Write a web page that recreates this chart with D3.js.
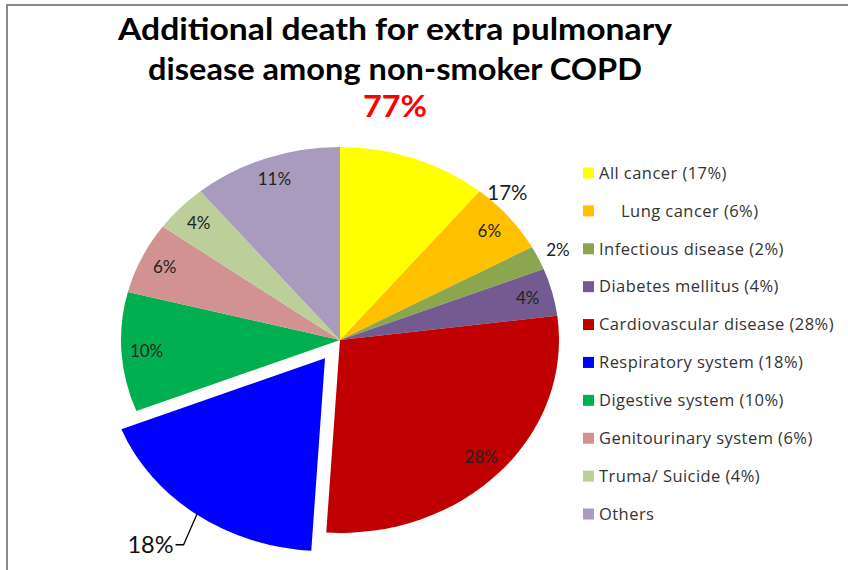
<!DOCTYPE html>
<html>
<head>
<meta charset="utf-8">
<script src="https://cdn.jsdelivr.net/npm/d3@7"></script>
<style>
  html, body { margin: 0; padding: 0; background: #fff; }
  svg { display: block; }
</style>
</head>
<body>
<svg id="chart" width="848" height="570"></svg>
<script>
// ---- data ----
const categories = ["All cancer", "Lung cancer", "Infectious disease", "Diabetes mellitus",
  "Cardiovascular disease", "Respiratory system", "Digestive system",
  "Genitourinary system", "Truma/ Suicide", "Others"];
const legendLabels = ["All cancer (17%)", "Lung cancer (6%)", "Infectious disease (2%)",
  "Diabetes mellitus (4%)", "Cardiovascular disease (28%)", "Respiratory system (18%)",
  "Digestive system (10%)", "Genitourinary system (6%)", "Truma/ Suicide (4%)", "Others"];
const values = [11, 6, 2, 4, 28, 18, 10, 6, 4, 11];
const sliceLabels = ["17%", "6%", "2%", "4%", "28%", "18%", "10%", "6%", "4%", "11%"];
const colors = ["#FFFF00", "#FFC000", "#8BA64E", "#735A91", "#C00000", "#0000FF",
  "#00B050", "#D29292", "#BCCF9A", "#A99BBE"];
const titleLines = ["Additional death for extra pulmonary", "disease among non-smoker COPD"];
const subtitle = "77%";
const explodedIndex = 5;

// ---- layout ----
const svg = d3.select("#chart");
const cx = 340, cy = 340, rx = 219, ry = 193;
const sx = rx / ry;
const explode = 0.1165;

// frame lines
svg.append("line").attr("x1", 7).attr("y1", 5).attr("x2", 848).attr("y2", 5)
  .attr("stroke", "#8a8a8a").attr("stroke-width", 2);
svg.append("line").attr("x1", 7).attr("y1", 4).attr("x2", 7).attr("y2", 570)
  .attr("stroke", "#8a8a8a").attr("stroke-width", 2);

// title
const titleFont = "Lato, 'Open Sans', sans-serif";
svg.append("text").attr("x", 395).attr("y", 40).attr("text-anchor", "middle")
  .attr("font-family", titleFont).attr("font-weight", "bold").attr("font-size", 30)
  .attr("textLength", 554).attr("lengthAdjust", "spacingAndGlyphs")
  .attr("fill", "#000").text(titleLines[0]);
svg.append("text").attr("x", 395).attr("y", 80).attr("text-anchor", "middle")
  .attr("font-family", titleFont).attr("font-weight", "bold").attr("font-size", 30)
  .attr("textLength", 494).attr("lengthAdjust", "spacingAndGlyphs")
  .attr("fill", "#000").text(titleLines[1]);
svg.append("text").attr("x", 395).attr("y", 117).attr("text-anchor", "middle")
  .attr("font-family", titleFont).attr("font-weight", "bold").attr("font-size", 30)
  .attr("textLength", 64).attr("lengthAdjust", "spacingAndGlyphs")
  .attr("fill", "#FF0000").text(subtitle);

// pie
const pie = d3.pie().sort(null).value(d => d)(values);
const arc = d3.arc().innerRadius(0).outerRadius(ry);

function pt(angle, r, ox = 0, oy = 0) {
  return [cx + ox + Math.sin(angle) * r * rx, cy + oy - Math.cos(angle) * r * ry];
}

const g = svg.append("g");
pie.forEach((p, i) => {
  const mid = (p.startAngle + p.endAngle) / 2;
  let ox = 0, oy = 0;
  if (i === explodedIndex) {
    ox = Math.sin(mid) * explode * rx;
    oy = -Math.cos(mid) * explode * ry;
  }
  g.append("path")
    .attr("d", arc(p))
    .attr("transform", `translate(${cx + ox},${cy + oy}) scale(${sx},1)`)
    .attr("fill", colors[i]);
});

// labels
const labelFont = "Lato, 'Open Sans', sans-serif";
pie.forEach((p, i) => {
  const mid = (p.startAngle + p.endAngle) / 2;
  let angle = mid, r = 0.885, size = 17, anchor = "middle";
  let ox = 0, oy = 0;
  if (i === 0) { angle = p.endAngle + 0.095; r = 1.08; size = 20.5; }
  if (i === 2) { r = 1.1; size = 17; }
  if (i === explodedIndex) {
    ox = Math.sin(mid) * explode * rx;
    oy = -Math.cos(mid) * explode * ry;
    const a = pt(mid, 0.99, ox, oy);
    const b = [a[0] - 14, a[1] + 32];
    const c = [b[0] - 8, b[1]];
    svg.append("polyline").attr("points", [a, b, c].map(q => q.join(",")).join(" "))
      .attr("fill", "none").attr("stroke", "#000").attr("stroke-width", 1.3);
    svg.append("text").attr("x", c[0] - 2).attr("y", c[1]).attr("dy", "0.36em")
      .attr("text-anchor", "end").attr("font-family", labelFont).attr("font-size", 23.5)
      .attr("fill", "#111").text(sliceLabels[i]);
    return;
  }
  const q = pt(angle, r);
  svg.append("text").attr("x", q[0]).attr("y", q[1]).attr("dy", "0.36em")
    .attr("text-anchor", anchor).attr("font-family", labelFont).attr("font-size", size)
    .attr("fill", "#222").text(sliceLabels[i]);
});

// legend
const legendFont = "'Open Sans', Lato, sans-serif";
const legendY = d3.scaleLinear().domain([0, categories.length - 1]).range([173, 514]);
const lg = svg.append("g");
categories.forEach((c, i) => {
  const y = legendY(i);
  lg.append("rect").attr("x", 583).attr("y", y - 5.5).attr("width", 11).attr("height", 11)
    .attr("fill", colors[i]);
  lg.append("text").attr("x", i === 1 ? 621 : 599).attr("y", y).attr("dy", "0.35em")
    .attr("font-family", legendFont).attr("font-size", 16.5).attr("letter-spacing", 0.45)
    .attr("fill", "#333")
    .text(legendLabels[i]);
});
</script>
</body>
</html>
